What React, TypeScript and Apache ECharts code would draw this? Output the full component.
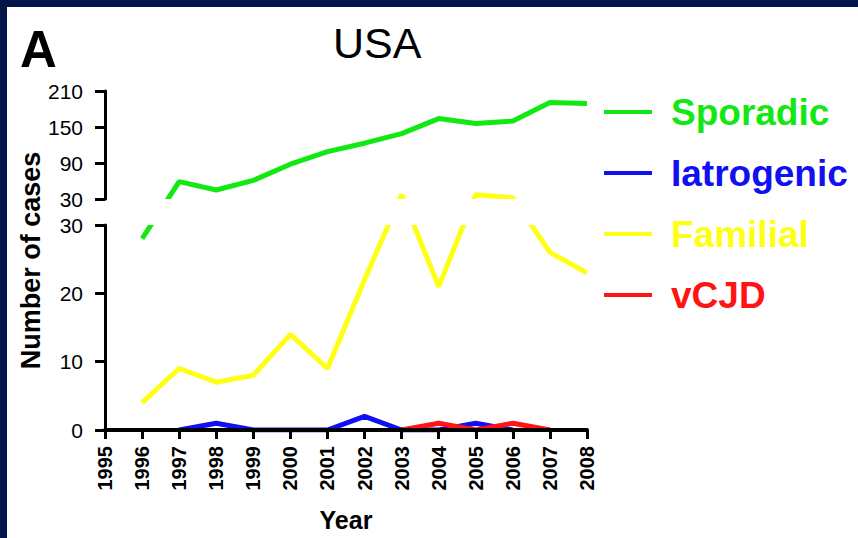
import React, { useEffect, useRef } from "react";
import * as echarts from "echarts";

// ---- data ----
const years = ["1995", "1996", "1997", "1998", "1999", "2000", "2001", "2002", "2003", "2004", "2005", "2006", "2007", "2008"];
const sporadic = [null, 28, 59, 45, 61, 88, 109, 123, 139, 164, 156, 160, 191, 189];
const iatrogenic = [null, null, 0, 1, 0, 0, 0, 2, 0, 0, 1, 0, null, null];
const familial = [null, 4, 9, 7, 8, 14, 9, 22, 37, 21, 37, 32, 26, 23];
const vcjd = [null, null, null, null, null, null, null, null, 0, 1, 0, 1, 0, null];
const lowerTicks = [0, 10, 20, 30];
const upperTicks = [30, 90, 150, 210];
const seriesNames = ["Sporadic", "Iatrogenic", "Familial", "vCJD"];
const seriesColors = ["#12e812", "#1010f2", "#ffff14", "#ff1414"];

// ---- layout ----
const W = 858;
const H = 538;
const AXIS_X = 105;
const PLOT_RIGHT = 587;
const UPPER_TOP = 91;
const UPPER_BOTTOM = 199;
const LOWER_TOP = 225;
const LOWER_BOTTOM = 430;
const BREAK = 30;
const UPPER_MAX = 210;
const FONT = "'Liberation Sans', Arial, Helvetica, sans-serif";
const NAVY = "#021449";

const pxPerUnit = (LOWER_BOTTOM - LOWER_TOP) / BREAK;
const upperOffset = (LOWER_BOTTOM - UPPER_BOTTOM) / pxPerUnit;
const upperScale = (UPPER_BOTTOM - UPPER_TOP) / (UPPER_MAX - BREAK) / pxPerUnit;
const displayMax = (LOWER_BOTTOM - UPPER_TOP) / pxPerUnit;
const toDisplay = (v: number | null) =>
  v == null ? null : v <= BREAK ? v : upperOffset + (v - BREAK) * upperScale;

export default function App() {
  const ref = useRef<HTMLDivElement>(null);
  useEffect(() => {
    document.body.style.margin = "0";
    if (!ref.current) return;
    const chart = echarts.init(ref.current, null, { renderer: "svg" });
    const axisLineStyle = { color: "#000", width: 3 };
    const allSeries = [sporadic, iatrogenic, familial, vcjd];
    const crossesGap = [true, false, true, false];
    const gapPieces = (color: string) => [
      { lt: BREAK, color },
      { gte: BREAK, lt: upperOffset, color: "rgba(255,255,255,0)" },
      { gte: upperOffset, color },
    ];
    const option: any = {
      animation: false,
      backgroundColor: "#ffffff",
      textStyle: { fontFamily: FONT },
      graphic: [
        {
          type: "text",
          left: 20,
          top: 24,
          style: { text: "A", font: `bold 51px ${FONT}`, fill: "#000" },
        },
        {
          type: "text",
          left: 333,
          top: 21,
          style: { text: "USA", font: `43px ${FONT}`, fill: "#000" },
        },
      ],
      legend: {
        orient: "vertical",
        left: 599,
        top: 86,
        icon: "rect",
        itemWidth: 48,
        itemHeight: 4,
        itemGap: 19,
        selectedMode: false,
        textStyle: { fontSize: 37, fontWeight: "bold", fontFamily: FONT, padding: [0, 0, 0, 14], lineHeight: 42 },
        data: seriesNames.map((n, i) => ({
          name: n,
          textStyle: { color: seriesColors[i] },
          itemStyle: { color: seriesColors[i] },
        })),
      },
      grid: [
        { left: AXIS_X, right: W - PLOT_RIGHT, top: UPPER_TOP, bottom: H - LOWER_BOTTOM },
        { left: AXIS_X, right: W - PLOT_RIGHT, top: UPPER_TOP, height: UPPER_BOTTOM - UPPER_TOP },
        { left: AXIS_X, right: W - PLOT_RIGHT, top: LOWER_TOP, bottom: H - LOWER_BOTTOM },
      ],
      xAxis: [
        { gridIndex: 0, type: "category", data: years, boundaryGap: false, show: false },
        { gridIndex: 1, type: "category", data: years, boundaryGap: false, show: false },
        {
          gridIndex: 2,
          type: "category",
          data: years,
          boundaryGap: false,
          z: 10,
          axisLine: { show: true, lineStyle: { color: "#000", width: 4 } },
          axisTick: { show: true, length: 9, interval: 0, lineStyle: axisLineStyle },
          axisLabel: { rotate: 90, interval: 0, fontSize: 20, fontWeight: "bold", color: "#000", margin: 16, fontFamily: FONT },
          splitLine: { show: false },
          name: "Year",
          nameLocation: "middle",
          nameGap: 77,
          nameTextStyle: { fontSize: 25, fontWeight: "bold", color: "#000", fontFamily: FONT },
        },
      ],
      yAxis: [
        {
          gridIndex: 0,
          type: "value",
          min: 0,
          max: displayMax,
          axisLine: { show: false },
          axisTick: { show: false },
          axisLabel: { show: false },
          splitLine: { show: false },
          name: "Number of cases",
          nameLocation: "middle",
          nameGap: 61,
          nameTextStyle: { fontSize: 27, fontWeight: "bold", color: "#000", fontFamily: FONT },
        },
        {
          gridIndex: 1,
          type: "value",
          min: BREAK,
          max: UPPER_MAX,
          z: 10,
          axisLine: { show: true, lineStyle: axisLineStyle },
          axisTick: { show: true, length: 10, lineStyle: axisLineStyle, customValues: upperTicks },
          axisLabel: { customValues: upperTicks, fontSize: 21, color: "#000", margin: 22, fontFamily: FONT },
          splitLine: { show: false },
        },
        {
          gridIndex: 2,
          type: "value",
          min: 0,
          max: BREAK,
          interval: 10,
          z: 10,
          axisLine: { show: true, lineStyle: axisLineStyle },
          axisTick: { show: true, length: 10, lineStyle: axisLineStyle, customValues: lowerTicks },
          axisLabel: { customValues: lowerTicks, fontSize: 21, color: "#000", margin: 22, fontFamily: FONT },
          splitLine: { show: false },
        },
      ],
      visualMap: [
        { type: "piecewise", show: false, seriesIndex: 0, dimension: 1, pieces: gapPieces(seriesColors[0]) },
        { type: "piecewise", show: false, seriesIndex: 2, dimension: 1, pieces: gapPieces(seriesColors[2]) },
      ],
      series: allSeries.map((arr, i) => ({
        type: "line",
        name: seriesNames[i],
        xAxisIndex: 0,
        yAxisIndex: 0,
        data: arr.map(toDisplay),
        symbol: "none",
        connectNulls: false,
        lineStyle: crossesGap[i] ? { width: 5 } : { width: 5, color: seriesColors[i] },
        itemStyle: { color: seriesColors[i] },
        z: 2,
      })),
    };
    chart.setOption(option);
    return () => chart.dispose();
  }, []);

  return (
    <div style={{ position: "relative", width: W, height: H, background: "#fff", overflow: "hidden" }}>
      <div ref={ref} style={{ position: "absolute", left: 0, top: 0, width: W, height: H }} />
      <div style={{ position: "absolute", left: 0, top: 0, width: W, height: 7, background: NAVY }} />
      <div style={{ position: "absolute", left: 0, top: 0, width: 7, height: H, background: NAVY }} />
    </div>
  );
}
